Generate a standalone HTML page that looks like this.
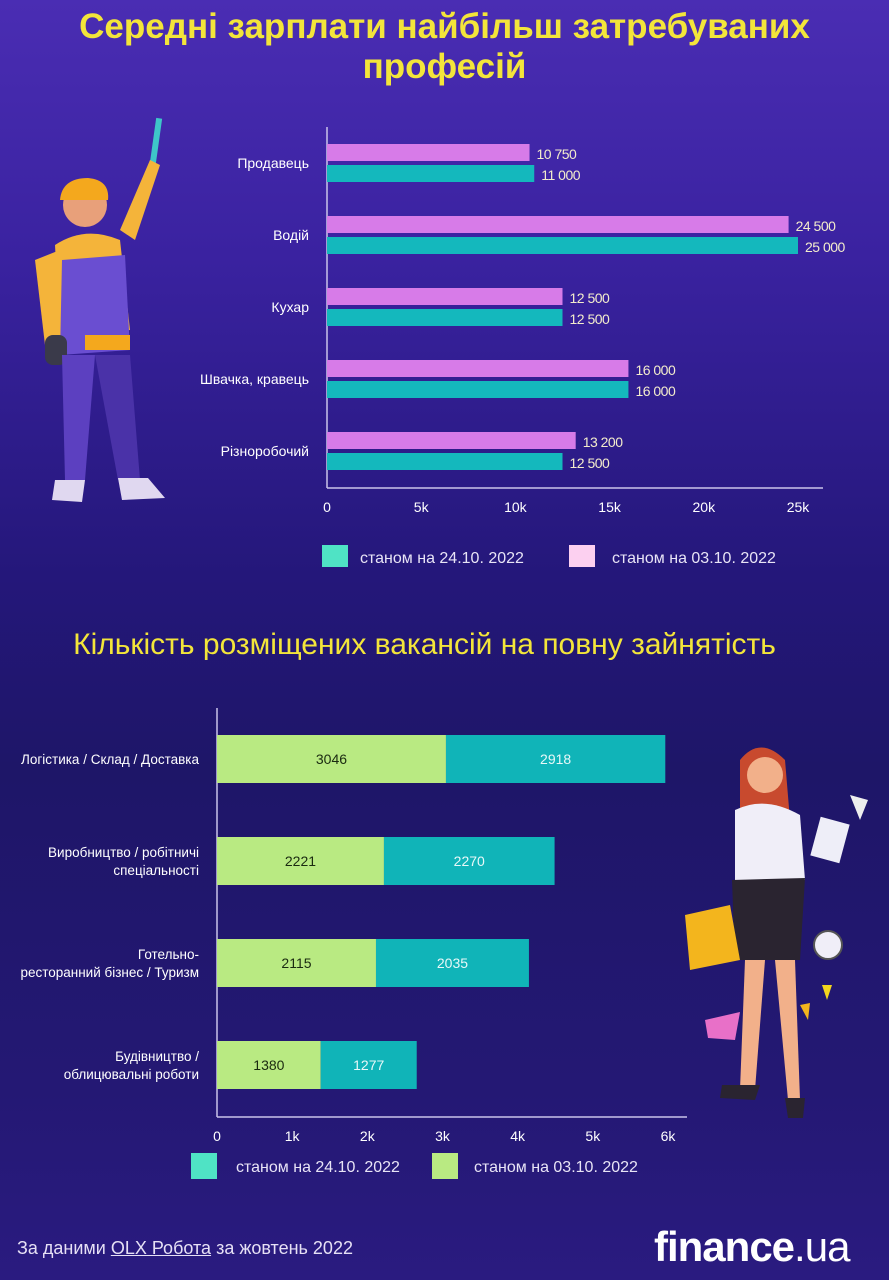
<!DOCTYPE html>
<html><head><meta charset="utf-8">
<style>
html,body{margin:0;padding:0}
body{width:889px;height:1280px;overflow:hidden;position:relative;font-family:"Liberation Sans","DejaVu Sans",sans-serif;
background:linear-gradient(180deg,#4a2db3 0%,#3a22a0 20%,#24177a 45%,#1e1668 60%,#241874 85%,#2a1b80 100%)}
.t{position:absolute;color:#f3e53a;text-align:center;width:889px;left:0}
svg{position:absolute;left:0;top:0}
</style></head><body>
<div class="t" style="top:7px;font-size:35px;font-weight:bold;line-height:40px">Середні зарплати найбільш затребуваних<br>професій</div>
<div class="t" style="top:628px;font-size:30px;left:-20px">Кількість розміщених вакансій на повну зайнятість</div>
<div style="position:absolute;left:17px;top:1238px;color:#e6e0f5;font-size:18px">За даними <span style="text-decoration:underline">OLX Робота</span> за жовтень 2022</div>
<div style="position:absolute;left:654px;top:1223px;color:#fff;font-size:42px;font-weight:bold;letter-spacing:-1px">finance<span style="font-weight:normal">.ua</span></div>

<svg id="art" width="889" height="1280">
  <g>
    <rect x="152" y="118" width="6" height="60" fill="#3ec6c9" transform="rotate(8 155 148)"/>
    <path d="M120,230 L150,160 L160,165 L135,240 Z" fill="#f4b43a"/>
    <circle cx="85" cy="205" r="22" fill="#e8a07a"/>
    <path d="M60,200 Q62,178 88,178 Q110,180 108,200 Z" fill="#f4a81d"/>
    <path d="M55,245 Q85,225 120,240 L130,330 L60,340 Z" fill="#f4b43a"/>
    <path d="M62,260 L125,255 L130,350 L60,355 Z" fill="#6a4ed1"/>
    <path d="M35,260 L60,250 L60,340 L45,345 Z" fill="#f4b43a"/>
    <rect x="45" y="335" width="22" height="30" rx="8" fill="#3a3a4a"/>
    <rect x="85" y="335" width="45" height="15" fill="#f4a81d"/>
    <path d="M62,355 L95,355 L85,480 L65,480 Z" fill="#5c40c0"/>
    <path d="M95,355 L130,355 L140,480 L118,480 Z" fill="#4a32a8"/>
    <path d="M55,480 L85,480 L82,502 L52,500 Z" fill="#e0d8f0"/>
    <path d="M118,478 L148,478 L165,498 L122,500 Z" fill="#e0d8f0"/>
  </g>
  <g>
    <path d="M740,760 Q760,735 785,760 L790,820 L740,830 Z" fill="#c84a2e"/>
    <circle cx="765" cy="775" r="18" fill="#f2b08a"/>
    <path d="M735,810 Q765,795 800,815 L805,880 L735,885 Z" fill="#f0eef8"/>
    <path d="M732,880 L805,878 L800,960 L735,960 Z" fill="#2a2430"/>
    <path d="M745,960 L765,960 L755,1090 L740,1090 Z" fill="#f2b08a"/>
    <path d="M775,960 L795,960 L800,1100 L788,1100 Z" fill="#f2b08a"/>
    <path d="M722,1085 L760,1085 L755,1100 L720,1098 Z" fill="#2a2430"/>
    <path d="M785,1098 L805,1098 L803,1118 L788,1118 Z" fill="#2a2430"/>
    <path d="M685,915 L730,905 L740,960 L690,970 Z" fill="#f3b51d"/>
    <rect x="815" y="820" width="30" height="40" fill="#eeeef8" transform="rotate(15 830 840)"/>
    <circle cx="828" cy="945" r="14" fill="#f0eef8" stroke="#555" stroke-width="2"/>
    <path d="M850,795 L868,800 L860,820 Z" fill="#eee"/>
    <path d="M822,985 L832,985 L827,1000 Z" fill="#f3d51d"/>
    <path d="M705,1020 L740,1012 L735,1040 L708,1038 Z" fill="#e870c8"/>
    <path d="M800,1005 L810,1003 L808,1020 Z" fill="#f3b51d"/>
  </g>
</svg>

<svg id="c1" width="889" height="1280"></svg>
<svg id="c2" width="889" height="1280"></svg>

<script>
const salaryCategories = ["Продавець","Водій","Кухар","Швачка, кравець","Різноробочий"];
const salaryOct03 = [10750,24500,12500,16000,13200];
const salaryOct24 = [11000,25000,12500,16000,12500];
const salaryTicks = [0,5000,10000,15000,20000,25000];
const salaryTickLabels = ["0","5k","10k","15k","20k","25k"];

const vacCategories = [["Логістика / Склад / Доставка"],["Виробництво / робітничі","спеціальності"],["Готельно-","ресторанний бізнес / Туризм"],["Будівництво /","облицювальні роботи"]];
const vacOct03 = [3046,2221,2115,1380];
const vacOct24 = [2918,2270,2035,1277];
const vacTicks = [0,1000,2000,3000,4000,5000,6000];
const vacTickLabels = ["0","1k","2k","3k","4k","5k","6k"];

const NS="http://www.w3.org/2000/svg";
function mk(svg,tag,attrs,text){const e=document.createElementNS(NS,tag);for(const k in attrs)e.setAttribute(k,attrs[k]);if(text!=null)e.textContent=text;svg.appendChild(e);return e;}
function fmt(v){return String(v).replace(/\B(?=(\d{3})+(?!\d))/g," ");}

const s1=document.getElementById('c1');
const x1=v=>327+v*(798-327)/25000;
const g1=i=>144+i*72;
let e=mk(s1,'line',{x1:327,y1:127,x2:327,y2:488,stroke:'#c9c3ea','stroke-width':1.5});

e=mk(s1,'line',{x1:327,y1:488,x2:823,y2:488,stroke:'#c9c3ea','stroke-width':1.5});

salaryTicks.forEach((t,i)=>{
  const el=mk(s1,'text',{x:x1(t),y:512,fill:'#fff','font-size':14,'text-anchor':'middle'},salaryTickLabels[i]);
  
  
});
salaryCategories.forEach((c,i)=>{
  const y=g1(i);
  let el=mk(s1,'text',{x:309,y:y+24,fill:'#fff','font-size':14,'text-anchor':'end'},c);
  
  
  el=mk(s1,'rect',{x:327,y:y,width:x1(salaryOct03[i])-327,height:17,fill:'#d77be8'});
  
  
  el=mk(s1,'rect',{x:327,y:y+21,width:x1(salaryOct24[i])-327,height:17,fill:'#14b8bd'});
  
  
  el=mk(s1,'text',{x:x1(salaryOct03[i])+7,y:y+15,fill:'#f3eccc','font-size':14,'letter-spacing':'-0.5'},fmt(salaryOct03[i]));
  
  
  el=mk(s1,'text',{x:x1(salaryOct24[i])+7,y:y+36,fill:'#f3eccc','font-size':14,'letter-spacing':'-0.5'},fmt(salaryOct24[i]));
  
  
});
e=mk(s1,'rect',{x:322,y:545,width:26,height:22,fill:'#4fe3c5'});
e=mk(s1,'text',{x:360,y:563,fill:'#e8e4f6','font-size':16},'станом на 24.10. 2022');
e=mk(s1,'rect',{x:569,y:545,width:26,height:22,fill:'#fcd0f0'});
e=mk(s1,'text',{x:612,y:563,fill:'#e8e4f6','font-size':16},'станом на 03.10. 2022');

const s2=document.getElementById('c2');
const x2=v=>217+v*(668-217)/6000;
const g2=i=>735+i*102;
e=mk(s2,'line',{x1:217,y1:708,x2:217,y2:1117,stroke:'#c9c3ea','stroke-width':1.5});
e=mk(s2,'line',{x1:217,y1:1117,x2:687,y2:1117,stroke:'#c9c3ea','stroke-width':1.5});
vacTicks.forEach((t,i)=>{
  const el=mk(s2,'text',{x:x2(t),y:1141,fill:'#fff','font-size':14,'text-anchor':'middle'},vacTickLabels[i]);
  
  
});
vacCategories.forEach((lines,i)=>{
  const y=g2(i);
  const cy=y+24;
  lines.forEach((ln,k)=>{
    const el=mk(s2,'text',{x:199,y:cy+5+(k-(lines.length-1)/2)*18,fill:'#fff','font-size':13.5,'text-anchor':'end'},ln);
    
    
  });
  const a=vacOct03[i], b=vacOct24[i];
  let el=mk(s2,'rect',{x:217,y:y,width:x2(a)-217,height:48,fill:'#b9ea82'});
  
  
  el=mk(s2,'rect',{x:x2(a),y:y,width:x2(a+b)-x2(a),height:48,fill:'#10b4b8'});
  
  
  el=mk(s2,'text',{x:(217+x2(a))/2,y:cy+5,fill:'#1a2a10','font-size':14,'text-anchor':'middle'},String(a));
  
  
  el=mk(s2,'text',{x:(x2(a)+x2(a+b))/2,y:cy+5,fill:'#e8f8f8','font-size':14,'text-anchor':'middle'},String(b));
  
  
});
e=mk(s2,'rect',{x:191,y:1153,width:26,height:26,fill:'#4fe3c5'});
e=mk(s2,'text',{x:236,y:1172,fill:'#e8e4f6','font-size':16},'станом на 24.10. 2022');
e=mk(s2,'rect',{x:432,y:1153,width:26,height:26,fill:'#b9ea82'});
e=mk(s2,'text',{x:474,y:1172,fill:'#e8e4f6','font-size':16},'станом на 03.10. 2022');
</script>
</body></html>
